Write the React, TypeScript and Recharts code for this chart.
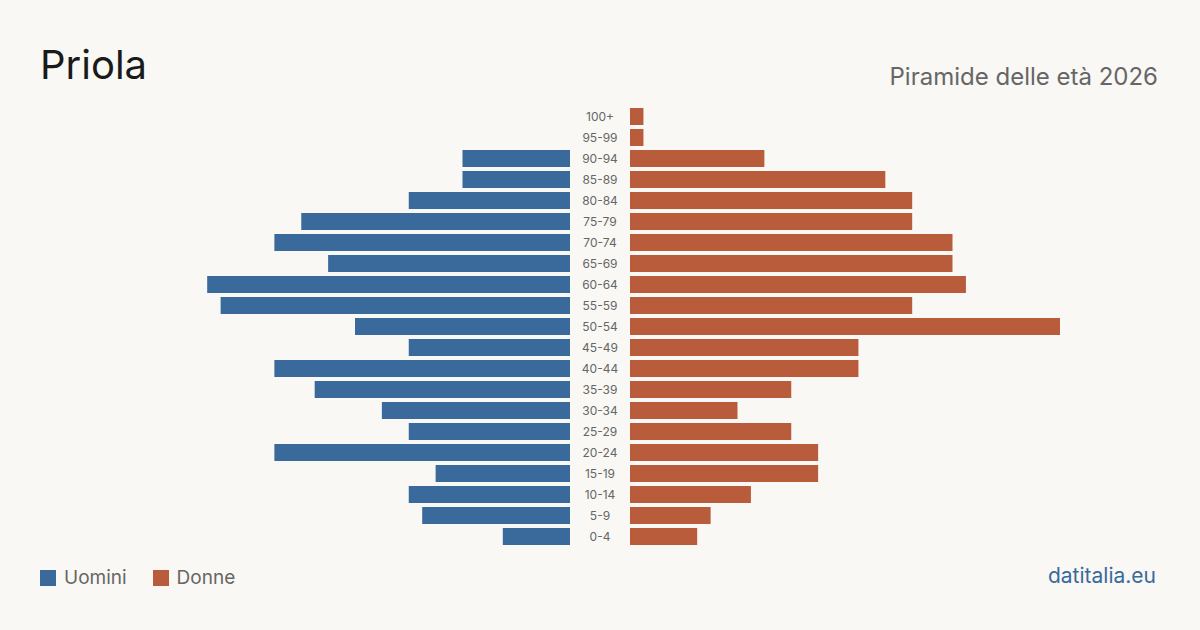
import React from "react";
import { BarChart, Bar, XAxis, YAxis } from "recharts";

// Age groups, top (oldest) to bottom (youngest)
const ageGroups = [
  "100+", "95-99", "90-94", "85-89", "80-84", "75-79", "70-74", "65-69",
  "60-64", "55-59", "50-54", "45-49", "40-44", "35-39", "30-34", "25-29",
  "20-24", "15-19", "10-14", "5-9", "0-4",
];

// Residents per age group
const uomini = [0, 0, 8, 8, 12, 20, 22, 18, 27, 26, 16, 12, 22, 19, 14, 12, 22, 10, 12, 11, 5];
const donne = [1, 1, 10, 19, 21, 21, 24, 24, 25, 21, 32, 17, 17, 12, 8, 12, 14, 14, 9, 6, 5];

const MAX_VALUE = 32;

const BLUE = "#3a6a9b";
const ORANGE = "#b95c3c";
const BG = "#f9f8f4";
const FONT = "Inter, 'Noto Sans', sans-serif";

const rows = ageGroups.map((age, i) => ({ age, uomini: uomini[i], donne: donne[i] }));

const PLOT_TOP = 105.5;
const PLOT_HEIGHT = 441;
const SIDE_WIDTH = 430;
const LABEL_WIDTH = 60;
const BAR_SIZE = 17;

const AgeTick = (props: any) => {
  const { y, payload } = props;
  return (
    <text
      x={LABEL_WIDTH / 2}
      y={y}
      dy={4}
      textAnchor="middle"
      fontSize={12}
      fill="#666"
      fontFamily={FONT}
    >
      {payload.value}
    </text>
  );
};

export default function App() {
  return (
    <div
      style={{
        position: "absolute",
        left: 0,
        top: 0,
        width: 1200,
        height: 630,
        background: BG,
        fontFamily: FONT,
        overflow: "hidden",
      }}
    >
      <div style={{ position: "absolute", left: 40, top: 45, fontSize: 40, color: "#1a1a1a", lineHeight: 1 }}>
        Priola
      </div>
      <div style={{ position: "absolute", right: 42, top: 65, fontSize: 24, color: "#666", lineHeight: 1 }}>
        Piramide delle età 2026
      </div>

      {/* Men, growing leftwards */}
      <div style={{ position: "absolute", left: 600 - LABEL_WIDTH / 2 - SIDE_WIDTH, top: PLOT_TOP }}>
        <BarChart
          width={SIDE_WIDTH}
          height={PLOT_HEIGHT}
          data={rows}
          layout="vertical"
          margin={{ top: 0, right: 0, bottom: 0, left: 0 }}
          barSize={BAR_SIZE}
        >
          <XAxis type="number" domain={[0, MAX_VALUE]} reversed hide />
          <YAxis type="category" dataKey="age" hide />
          <Bar dataKey="uomini" fill={BLUE} isAnimationActive={false} />
        </BarChart>
      </div>

      {/* Women, growing rightwards, with the age labels in the middle column */}
      <div style={{ position: "absolute", left: 600 - LABEL_WIDTH / 2, top: PLOT_TOP }}>
        <BarChart
          width={SIDE_WIDTH + LABEL_WIDTH}
          height={PLOT_HEIGHT}
          data={rows}
          layout="vertical"
          margin={{ top: 0, right: 0, bottom: 0, left: 0 }}
          barSize={BAR_SIZE}
        >
          <XAxis type="number" domain={[0, MAX_VALUE]} hide />
          <YAxis
            type="category"
            dataKey="age"
            width={LABEL_WIDTH}
            axisLine={false}
            tickLine={false}
            interval={0}
            tick={<AgeTick />}
          />
          <Bar dataKey="donne" fill={ORANGE} isAnimationActive={false} />
        </BarChart>
      </div>

      {/* Legend */}
      <div style={{ position: "absolute", left: 40, top: 566, display: "flex", alignItems: "center", fontSize: 19, color: "#666" }}>
        <span style={{ width: 16, height: 16, background: BLUE, display: "inline-block", marginRight: 8 }} />
        <span style={{ marginRight: 26 }}>Uomini</span>
        <span style={{ width: 16, height: 16, background: ORANGE, display: "inline-block", marginRight: 8 }} />
        <span>Donne</span>
      </div>

      <div style={{ position: "absolute", right: 44, top: 565, fontSize: 21, color: BLUE, lineHeight: 1 }}>
        datitalia.eu
      </div>
    </div>
  );
}
